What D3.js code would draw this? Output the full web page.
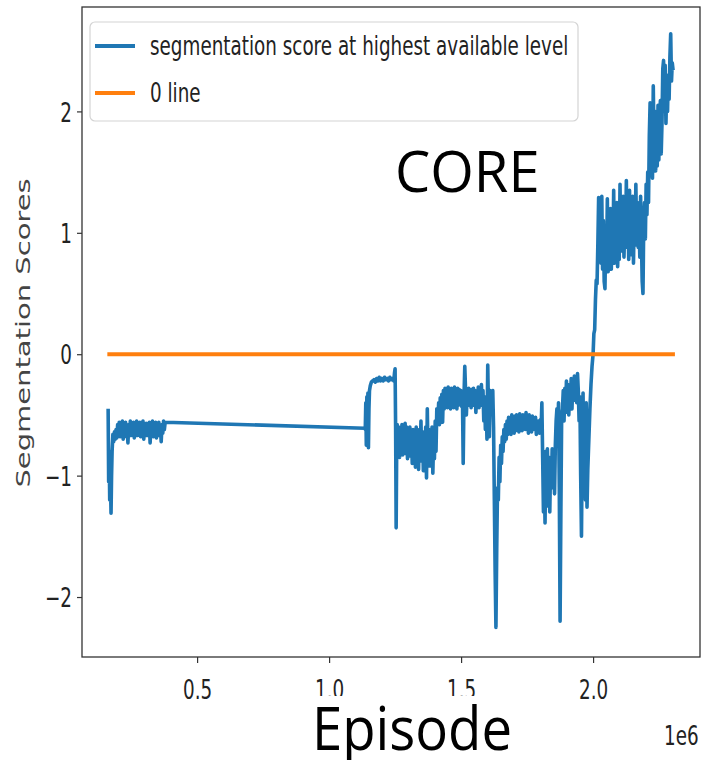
<!DOCTYPE html>
<html>
<head>
<meta charset="utf-8">
<script src="https://cdn.jsdelivr.net/npm/d3@7"></script>
<style>
  html, body { margin: 0; padding: 0; background: #fff; }
  svg { display: block; }
</style>
</head>
<body>
<svg id="chart" width="702" height="760"></svg>
<script>
// ---- data (episode in units of 1e6, segmentation score) ----
const xTicks = [0.5, 1.0, 1.5, 2.0];
const yTicks = [-2, -1, 0, 1, 2];
const legendLabels = ["segmentation score at highest available level", "0 line"];
const zeroLineEpisodes = [0.16, 2.31];
const zeroLineScores = [0, 0];
const scoreSeries = [
  [0.163,-0.45],[0.165,-1.05],[0.167,-0.80],[0.169,-1.20],[0.171,-0.95],[0.174,-1.31],[0.176,-1.00],[0.178,-0.80],
  [0.181,-0.66],[0.184,-0.72],[0.187,-0.64],[0.190,-0.70],[0.193,-0.62],[0.196,-0.69],[0.199,-0.58],[0.202,-0.66],
  [0.205,-0.56],[0.208,-0.68],[0.211,-0.58],[0.214,-0.65],[0.217,-0.55],[0.220,-0.70],[0.223,-0.59],[0.226,-0.66],
  [0.229,-0.56],[0.232,-0.68],[0.235,-0.60],[0.238,-0.73],[0.241,-0.58],[0.244,-0.66],[0.247,-0.55],[0.250,-0.67],
  [0.253,-0.59],[0.256,-0.64],[0.259,-0.56],[0.262,-0.69],[0.265,-0.58],[0.268,-0.65],[0.271,-0.55],[0.274,-0.67],
  [0.277,-0.60],[0.280,-0.66],[0.283,-0.56],[0.286,-0.68],[0.289,-0.59],[0.292,-0.65],[0.295,-0.55],[0.298,-0.70],
  [0.301,-0.58],[0.304,-0.66],[0.307,-0.57],[0.310,-0.67],[0.313,-0.59],[0.316,-0.64],[0.319,-0.56],[0.322,-0.73],
  [0.325,-0.60],[0.328,-0.66],[0.331,-0.55],[0.334,-0.68],[0.337,-0.58],[0.340,-0.65],[0.343,-0.56],[0.346,-0.69],
  [0.349,-0.58],[0.352,-0.64],[0.355,-0.56],[0.358,-0.67],[0.361,-0.60],[0.364,-0.72],[0.367,-0.58],[0.370,-0.65],
  [0.373,-0.55],[0.376,-0.62],[0.379,-0.56],
  [1.136,-0.61],
  [1.137,-0.62],[1.139,-0.40],[1.141,-0.75],[1.143,-0.35],[1.145,-0.70],[1.147,-0.32],[1.149,-0.77],[1.151,-0.45],
  [1.153,-0.30],[1.156,-0.26],[1.160,-0.23],[1.165,-0.22],[1.170,-0.21],[1.175,-0.23],[1.180,-0.20],[1.185,-0.22],
  [1.190,-0.19],[1.195,-0.22],[1.200,-0.20],[1.205,-0.22],[1.210,-0.19],[1.215,-0.21],[1.220,-0.20],[1.225,-0.22],
  [1.230,-0.19],[1.235,-0.21],[1.240,-0.20],[1.245,-0.22],[1.248,-0.15],[1.250,-0.12],[1.252,-0.60],[1.254,-1.43],
  [1.256,-0.80],
  [1.258,-0.58],[1.261,-0.82],[1.264,-0.60],[1.267,-0.85],[1.270,-0.62],[1.273,-0.80],[1.276,-0.58],[1.279,-0.83],
  [1.282,-0.63],[1.285,-0.78],[1.288,-0.57],[1.291,-0.82],[1.294,-0.60],[1.297,-0.86],[1.300,-0.64],[1.303,-0.79],
  [1.306,-0.60],[1.309,-0.84],[1.312,-0.66],[1.315,-0.90],[1.318,-0.62],[1.321,-0.88],[1.324,-0.65],[1.327,-0.93],
  [1.330,-0.60],[1.333,-0.85],[1.336,-0.66],[1.339,-0.95],[1.342,-0.62],[1.345,-0.80],[1.348,-0.55],[1.351,-0.88],
  [1.354,-0.64],[1.357,-0.96],[1.360,-0.70],[1.363,-0.90],[1.366,-0.60],[1.369,-1.02],[1.372,-0.45],[1.375,-0.85],
  [1.378,-0.62],[1.381,-0.92],[1.384,-0.66],[1.387,-0.88],[1.390,-0.60],[1.393,-0.98],[1.396,-0.68],[1.399,-0.86],
  [1.402,-0.55],[1.405,-0.80],[1.408,-0.45],
  [1.412,-0.55],[1.415,-0.40],[1.418,-0.58],[1.421,-0.36],[1.424,-0.50],[1.427,-0.33],[1.430,-0.56],[1.433,-0.30],
  [1.436,-0.45],[1.439,-0.28],[1.442,-0.42],[1.445,-0.30],[1.448,-0.44],[1.451,-0.27],[1.454,-0.40],[1.457,-0.30],
  [1.460,-0.45],[1.463,-0.28],[1.466,-0.38],[1.469,-0.30],[1.472,-0.44],[1.475,-0.27],[1.478,-0.40],[1.481,-0.30],
  [1.484,-0.45],[1.487,-0.28],[1.490,-0.42],[1.493,-0.29],[1.496,-0.38],[1.499,-0.30],[1.502,-0.43],[1.505,-0.32],
  [1.508,-0.90],[1.511,-0.35],[1.514,-0.10],[1.517,-0.30],[1.520,-0.50],[1.523,-0.32],[1.526,-0.42],[1.529,-0.28],
  [1.532,-0.40],[1.535,-0.30],[1.538,-0.44],[1.541,-0.29],[1.544,-0.38],[1.547,-0.28],[1.550,-0.42],[1.553,-0.30],
  [1.556,-0.48],[1.559,-0.33],[1.562,-0.40],[1.565,-0.27],[1.568,-0.44],[1.571,-0.30],[1.574,-0.38],[1.577,-0.25],
  [1.580,-0.42],[1.583,-0.30],[1.586,-0.55],[1.589,-0.35],[1.592,-0.62],[1.595,-0.40],[1.598,-0.70],[1.601,-0.09],
  [1.604,-0.50],[1.607,-0.68],[1.610,-0.30],[1.613,-0.40],[1.616,-0.35],[1.620,-0.30],[1.623,-0.60],[1.626,-1.20],
  [1.629,-1.80],[1.632,-2.25],[1.635,-1.60],[1.638,-1.10],[1.641,-1.20],[1.644,-0.85],[1.647,-1.05],[1.650,-0.75],
  [1.653,-0.90],[1.656,-0.68],[1.659,-0.80],[1.662,-0.62],[1.665,-0.72],
  [1.668,-0.58],[1.671,-0.70],[1.674,-0.55],[1.677,-0.66],[1.680,-0.52],[1.683,-0.64],[1.686,-0.54],[1.689,-0.66],
  [1.692,-0.50],[1.695,-0.62],[1.698,-0.53],[1.701,-0.65],[1.704,-0.51],[1.707,-0.63],[1.710,-0.50],[1.713,-0.60],
  [1.716,-0.52],[1.719,-0.64],[1.722,-0.49],[1.725,-0.61],[1.728,-0.52],[1.731,-0.63],[1.734,-0.50],[1.737,-0.60],
  [1.740,-0.51],[1.743,-0.62],[1.746,-0.48],[1.749,-0.60],[1.752,-0.53],[1.755,-0.65],[1.758,-0.50],[1.761,-0.60],
  [1.764,-0.52],[1.767,-0.64],[1.770,-0.51],[1.773,-0.62],[1.776,-0.53],[1.779,-0.60],[1.782,-0.52],[1.785,-0.66],
  [1.788,-0.55],[1.791,-0.62],[1.794,-0.55],[1.797,-0.65],[1.800,-0.54],[1.803,-0.62],[1.806,-0.40],[1.809,-0.85],
  [1.812,-1.30],[1.815,-0.95],[1.818,-1.39],[1.821,-0.80],[1.824,-1.25],[1.827,-0.78],[1.830,-1.15],[1.833,-0.85],
  [1.836,-1.30],[1.839,-0.90],[1.842,-1.10],[1.845,-0.78],[1.848,-1.05],[1.851,-0.82],[1.854,-1.15],[1.857,-0.75],
  [1.860,-0.55],[1.863,-0.45],[1.866,-0.70],[1.869,-0.40],[1.872,-1.10],[1.875,-2.20],[1.878,-1.30],[1.881,-0.50],
  [1.884,-0.45],[1.887,-0.30],[1.890,-0.55],[1.893,-0.28],[1.896,-0.48],[1.899,-0.22],[1.902,-0.42],[1.905,-0.25],
  [1.908,-0.50],[1.911,-0.30],[1.914,-0.40],[1.917,-0.20],[1.920,-0.45],[1.923,-0.26],[1.926,-0.38],[1.929,-0.18],
  [1.932,-0.35],[1.935,-0.22],[1.938,-0.40],[1.941,-0.16],[1.944,-0.30],[1.947,-0.55],[1.950,-0.35],[1.953,-1.00],
  [1.956,-1.50],[1.959,-0.70],[1.962,-0.32],[1.965,-1.10],[1.968,-0.45],[1.971,-1.20],[1.974,-0.40],[1.977,-1.26],
  [1.980,-0.95],[1.984,-0.70],[1.988,-0.45],[1.992,-0.25],[1.996,-0.10],[2.000,0.00],[2.003,0.17],[2.006,0.20],
  [2.009,0.45],[2.012,0.61],[2.015,0.58],[2.018,0.90],[2.021,1.29],[2.024,0.80],
  [2.027,1.25],[2.030,0.75],[2.033,1.30],[2.036,0.70],[2.039,1.10],[2.042,0.60],[2.045,0.54],[2.048,1.00],
  [2.051,0.72],[2.054,1.28],[2.057,0.68],[2.060,1.05],[2.063,0.75],[2.066,1.20],[2.069,0.70],[2.072,0.95],
  [2.075,0.80],[2.078,1.35],[2.081,0.75],[2.084,1.10],[2.087,0.85],[2.090,1.25],[2.093,0.72],[2.096,1.00],
  [2.099,0.78],[2.102,1.40],[2.105,0.85],[2.108,1.15],[2.111,0.90],[2.114,1.30],[2.117,0.80],[2.120,1.05],
  [2.123,0.92],[2.126,1.43],[2.129,0.88],[2.132,1.20],[2.135,0.78],[2.138,1.35],[2.141,0.95],[2.144,1.10],
  [2.147,0.82],[2.150,1.30],[2.153,0.75],[2.156,1.15],[2.159,0.90],[2.162,1.40],[2.165,0.95],[2.168,1.25],
  [2.171,0.88],[2.174,1.10],[2.177,0.80],[2.180,1.30],[2.183,0.95],[2.186,0.60],[2.189,0.50],[2.192,1.10],
  [2.195,1.25],[2.198,0.95],[2.201,1.40],[2.204,1.15],[2.207,1.50],[2.210,1.25],[2.213,1.80],[2.216,2.07],
  [2.219,1.60],[2.222,1.95],[2.225,1.45],[2.228,2.21],[2.231,1.70],[2.234,2.00],[2.237,1.51],[2.240,1.85],
  [2.243,1.55],[2.246,2.05],[2.249,1.60],[2.252,1.95],[2.255,2.09],[2.258,1.65],[2.261,1.90],[2.264,2.35],
  [2.267,2.42],[2.270,2.00],[2.273,2.38],[2.276,1.90],[2.279,2.20],[2.282,2.00],[2.285,2.30],[2.288,2.10],
  [2.291,2.45],[2.294,2.64],[2.297,2.25],[2.300,2.40],[2.303,2.34]
];

// ---- layout ----
const svg = d3.select("#chart");
const plot = { left: 82, right: 700, top: 7, bottom: 657 };
const SX = 0.68;            // horizontal squeeze of the reference image's text
const FS = 27;              // matplotlib text size in the picture
const tickColor = "#222";

const x = d3.scaleLinear().domain([0.064, 2.405]).range([plot.left, plot.right]);
const y = d3.scaleLinear().domain([-2.494, 2.86]).range([plot.bottom, plot.top]);

// axes
const yAxis = svg.append("g").attr("transform", `translate(${plot.left},0)`)
  .call(d3.axisLeft(y).tickValues(yTicks).tickSize(5).tickFormat(d => d3.format("d")(d).replace("-", "\u2212")));
const xAxis = svg.append("g").attr("transform", `translate(0,${plot.bottom})`)
  .call(d3.axisBottom(x).tickValues(xTicks).tickSize(6).tickFormat(d3.format(".1f")));
[yAxis, xAxis].forEach(g => {
  g.select(".domain").remove();
  g.selectAll(".tick line").attr("stroke", "#333").attr("stroke-width", 1.2);
  g.selectAll(".tick text").attr("fill", tickColor)
    .style("font-family", "'DejaVu Sans', sans-serif").style("font-size", FS + "px");
});
yAxis.selectAll(".tick text").attr("x", null).attr("dy", "0.36em")
  .attr("transform", `translate(-10,0) scale(${SX},1)`);
xAxis.selectAll(".tick text").attr("y", null).attr("dy", null)
  .attr("transform", `translate(0,42) scale(${SX},1)`);

// lines
const line = d3.line().x(d => x(d[0])).y(d => y(d[1]));
svg.append("path").datum(scoreSeries)
  .attr("d", line).attr("fill", "none").attr("stroke", "#1f77b4")
  .attr("stroke-width", 3.6).attr("stroke-linejoin", "round").attr("stroke-linecap", "butt");
svg.append("path").datum(zeroLineEpisodes.map((e, i) => [e, zeroLineScores[i]]))
  .attr("d", line).attr("fill", "none").attr("stroke", "#ff7f0e").attr("stroke-width", 4);

// frame
svg.append("rect").attr("x", plot.left).attr("y", plot.top)
  .attr("width", plot.right - plot.left).attr("height", plot.bottom - plot.top)
  .attr("fill", "none").attr("stroke", "#333").attr("stroke-width", 1.3);

// legend
const lg = svg.append("g");
lg.append("rect").attr("x", 90).attr("y", 22).attr("width", 488).attr("height", 99).attr("rx", 5)
  .attr("fill", "#fff").attr("fill-opacity", 0.85).attr("stroke", "#d4d4d4").attr("stroke-width", 1.2);
const legendColors = ["#1f77b4", "#ff7f0e"];
const legendRowY = [46, 93];
legendLabels.forEach((lab, i) => {
  lg.append("line").attr("x1", 95).attr("x2", 135).attr("y1", legendRowY[i]).attr("y2", legendRowY[i])
    .attr("stroke", legendColors[i]).attr("stroke-width", 4);
  lg.append("text").text(lab).attr("transform", `translate(150,${legendRowY[i]}) scale(${SX},1)`)
    .attr("dy", "0.34em").attr("fill", tickColor)
    .style("font-family", "'DejaVu Sans', sans-serif").style("font-size", FS + "px");
});

// y label
svg.append("text").text("Segmentation Scores")
  .attr("transform", `translate(23,333) scale(${SX},1) rotate(-90)`)
  .attr("text-anchor", "middle").attr("dy", "0.35em").attr("fill", "#444")
  .style("font-family", "'DejaVu Sans', sans-serif").style("font-size", "29px");

// offset text
svg.append("text").text("1e6").attr("transform", `translate(664,745) scale(${SX},1)`)
  .attr("fill", tickColor).style("font-family", "'DejaVu Sans', sans-serif").style("font-size", FS + "px");

// overlay annotations
svg.append("text").text("CORE").attr("x", 395).attr("y", 192)
  .attr("fill", "#000").style("font-family", "'Open Sans', sans-serif").style("font-size", "56px");
svg.append("rect").attr("x", 300).attr("y", 696).attr("width", 225).attr("height", 64).attr("fill", "#fff");
svg.append("text").text("Episode").attr("x", 312).attr("y", 750)
  .attr("textLength", 200).attr("lengthAdjust", "spacingAndGlyphs")
  .attr("fill", "#000").style("font-family", "'Open Sans', sans-serif").style("font-size", "60px");
</script>
</body>
</html>
